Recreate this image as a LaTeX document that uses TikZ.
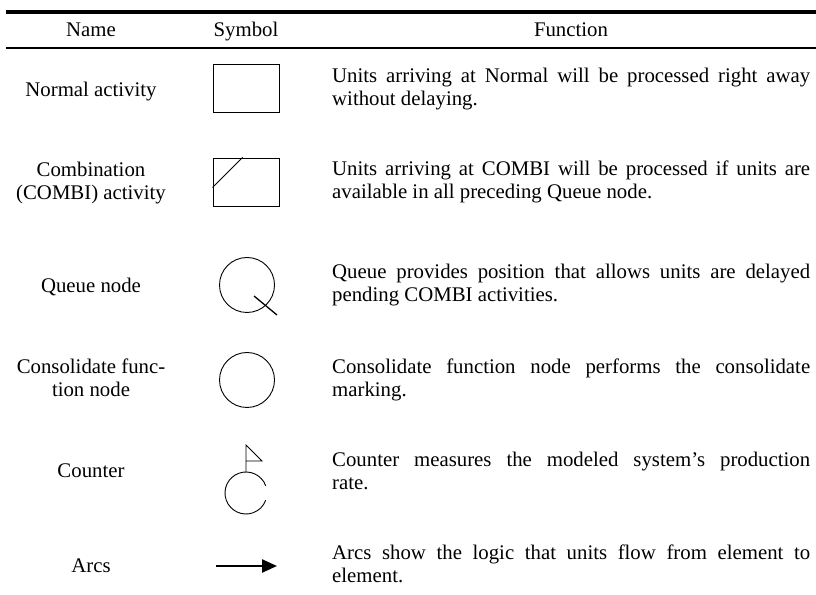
\documentclass[tikz,border=0pt]{standalone}
\usepackage{fontspec}
\setmainfont{Liberation Serif}
\usetikzlibrary{arrows.meta,calc}

\begin{document}
\begin{tikzpicture}[x=1pt,y=1pt,
    headcell/.style={anchor=base,inner sep=0pt,font=\fontsize{20.8}{23.3}\selectfont},
    namecell/.style={align=center,inner sep=0pt,font=\fontsize{20.8}{23.3}\selectfont},
    funccell/.style={anchor=west,text width=478pt,align=justify,inner sep=0pt,font=\fontsize{20.8}{23.3}\selectfont},
    symbox/.style={draw,line width=0.9pt,minimum width=66pt,minimum height=48pt,inner sep=0pt},
    symcirc/.style={draw,circle,line width=0.9pt,minimum size=55pt,inner sep=0pt}]

\useasboundingbox (0,0) rectangle (816,594);

% top and header rules
\draw[line width=4.5pt] (6,582) -- (816,582);
\draw[line width=2.5pt] (6,546) -- (816,546);

% header
\node[headcell] (hname) at (91,557) {Name};
\node[headcell] (hsym) at (246,557) {Symbol};
\node[headcell] (hfunc) at (571,557) {Function};

% Normal activity
\node[namecell] (n1) at (91,502) {Normal activity};
\node[symbox] (normal) at (246,506) {};
\node[funccell] (f1) at (332,505) {Units arriving at Normal will be processed right away\linebreak without delaying.};

% COMBI activity
\node[namecell] (n2) at (91,411) {Combination\\(COMBI) activity};
\node[symbox] (combi) at (246,412) {};
\draw[line width=0.9pt] ($(combi.north west)+(0,-30)$) -- ($(combi.north west)+(30,0)$);
\node[funccell] (f2) at (332,412) {Units arriving at COMBI will be processed if units are\linebreak available in all preceding Queue node.};

% Queue node
\node[namecell] (n3) at (91,307) {Queue node};
\node[symcirc] (queue) at (247,309) {};
\draw[line width=1.3pt] ($(queue.center)+(7,-11)$) -- ($(queue.center)+(30,-30)$);
\node[funccell] (f3) at (332,309) {Queue provides position that allows units are delayed\linebreak pending COMBI activities.};

% Consolidate function node
\node[namecell] (n4) at (91,216) {Consolidate func-\\tion node};
\node[symcirc] (consol) at (247,214) {};
\node[funccell] (f4) at (332,214) {Consolidate function node performs the consolidate\linebreak marking.};

% Counter: open circle with a flag
\node[namecell] (n5) at (91,123) {Counter};
\coordinate (cnt) at (246,101);
\coordinate (cnttop) at (246,122);
\coordinate (flagtop) at (246,149);
\coordinate (flagbase) at (246,133);
\draw[line width=0.9pt] ($(cnt)+(20:21)$) arc[start angle=20,end angle=340,radius=21];
\draw[line width=0.9pt] (cnttop) -- (flagtop) -- ++(16,-16) -- (flagbase);
\node[funccell] (f5) at (332,123) {Counter measures the modeled system's production\linebreak rate.};

% Arcs
\node[namecell] (n6) at (91,28) {Arcs};
\coordinate (arcs0) at (216,28);
\coordinate (arcs1) at (277,28);
\draw[line width=2.4pt,-{Triangle[length=15pt,width=13pt]}] (arcs0) -- (arcs1);
\node[funccell] (f6) at (332,30) {Arcs show the logic that units flow from element to\linebreak element.};

\end{tikzpicture}
\end{document}
